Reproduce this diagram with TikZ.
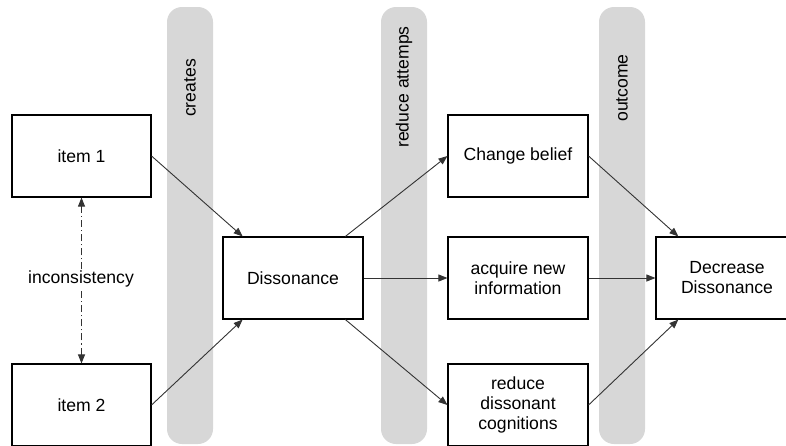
\documentclass[tikz,border=0pt]{standalone}
\usepackage{fontspec}
\setmainfont{Liberation Sans}
\usetikzlibrary{arrows.meta,calc}
\definecolor{barcol}{HTML}{D7D7D7}
\definecolor{arrcol}{HTML}{333333}
\tikzset{
  box/.style={draw=black, line width=1.1pt, fill=white, minimum width=139pt, minimum height=82pt, inner sep=2pt, align=center, font=\fontsize{17.6}{20}\selectfont},
  bar/.style={fill=barcol, draw=none, rounded corners=15pt},
  barlabel/.style={rotate=90, font=\fontsize{17.6}{20}\selectfont, inner sep=0pt},
  conn/.style={draw=arrcol, line width=0.9pt, -{Triangle[length=9pt,width=7pt]}},
  incon/.style={draw=arrcol, line width=0.9pt, dash pattern=on 7pt off 3pt on 1.2pt off 3pt, {Triangle[length=9pt,width=7pt]}-{Triangle[length=9pt,width=7pt]}},
}
\begin{document}
\begin{tikzpicture}[x=1pt,y=-1pt]
\useasboundingbox (0,0) rectangle (786,445);
\clip (0,0) rectangle (786,445);
% bars
\path[bar] (167,7) rectangle (213,444);
\path[bar] (381,7) rectangle (427,444);
\path[bar] (599,7) rectangle (645,444);
\node[barlabel] (lcreates) at (190,88) {creates};
\node[barlabel] (lreduce) at (404,87) {reduce attemps};
\node[barlabel] (loutcome) at (622,88) {outcome};
% boxes
\node[box] (item1) at (81.5,156) {item 1};
\node[box] (item2) at (81.5,405) {item 2};
\node[box, minimum width=140pt] (diss) at (293,278) {Dissonance};
\node[box, minimum width=140pt] (change) at (518,156) {Change belief};
\node[box, minimum width=140pt] (acquire) at (518,278) {acquire new\\information};
\node[box, minimum width=140pt] (reduce) at (518,405) {reduce\\dissonant\\cognitions};
\node[box, minimum width=142pt] (decr) at (727,278) {Decrease\\Dissonance};
% connectors
\coordinate (dissTL) at ($(diss.north west)!0.143!(diss.north east)$);
\coordinate (dissTR) at ($(diss.north west)!0.871!(diss.north east)$);
\coordinate (dissBL) at ($(diss.south west)!0.143!(diss.south east)$);
\coordinate (dissBR) at ($(diss.south west)!0.871!(diss.south east)$);
\coordinate (decrTL) at ($(decr.north west)!0.16!(decr.north east)$);
\coordinate (decrBL) at ($(decr.south west)!0.16!(decr.south east)$);
\draw[conn] (item1.east) -- (dissTL);
\draw[conn] (item2.east) -- (dissBL);
\draw[conn] (dissTR) -- (change.west);
\draw[conn] (diss.east) -- (acquire.west);
\draw[conn] (dissBR) -- (reduce.west);
\draw[conn] (change.east) -- (decrTL);
\draw[conn] (acquire.east) -- (decr.west);
\draw[conn] (reduce.east) -- (decrBL);
\draw[incon] (item2.north) -- (item1.south);
\node[fill=white, inner sep=1pt, font=\fontsize{17.6}{20}\selectfont] (inc) at (81,279) {inconsistency};
\end{tikzpicture}
\end{document}
